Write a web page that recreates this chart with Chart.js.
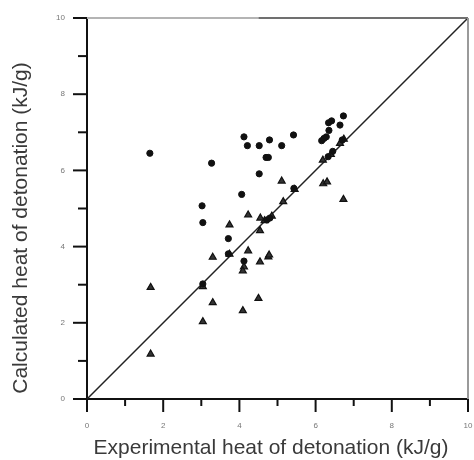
<!DOCTYPE html>
<html>
<head>
<meta charset="utf-8">
<title>Heat of detonation</title>
<script src="https://cdn.jsdelivr.net/npm/chart.js@4"></script>
<style>
  html, body { margin: 0; padding: 0; background: #fff; }
  canvas { display: block; }
</style>
</head>
<body>
<canvas id="chart" width="474" height="460"></canvas>
<script>
// Experimental (x) vs calculated (y) heat of detonation, kJ/g
const circleX = [1.65, 3.27, 3.02, 3.04, 3.71, 4.06, 4.12, 4.21, 4.52, 4.79, 5.11, 5.42, 4.70, 4.76, 4.52,
                 6.16, 6.22, 6.34, 6.42, 6.64, 6.73, 6.35, 6.28, 3.71, 5.43, 4.72, 4.80, 3.04, 6.33, 6.45, 6.70, 4.12];
const circleY = [6.45, 6.19, 5.07, 4.63, 4.21, 5.37, 6.88, 6.65, 6.65, 6.80, 6.65, 6.93, 6.34, 6.34, 5.91,
                 6.78, 6.84, 7.25, 7.30, 7.19, 7.43, 7.05, 6.88, 3.81, 5.53, 4.70, 4.75, 3.02, 6.36, 6.50, 6.80, 3.62];

const triangleX = [1.67, 1.67, 3.04, 3.30, 3.04, 3.30, 3.74, 3.74, 4.23, 4.23, 4.54, 4.12, 4.09, 4.54, 4.76,
                   4.78, 4.09, 4.50, 5.11, 5.15, 5.45, 4.66, 4.85, 6.20, 6.30, 6.73, 6.19, 6.40, 6.64, 6.74, 4.55];
const triangleY = [2.93, 1.18, 2.03, 2.53, 2.95, 3.72, 4.57, 3.80, 4.83, 3.89, 4.42, 3.47, 3.36, 3.60, 3.73,
                   3.78, 2.32, 2.64, 5.72, 5.18, 5.50, 4.68, 4.80, 5.65, 5.70, 5.24, 6.27, 6.42, 6.71, 6.82, 4.75];

// y = x reference line
const lineX = [0, 10];
const lineY = [0, 10];

const axisMin = 0;
const axisMax = 10;
const majorTicks = [0, 2, 4, 6, 8, 10];

const xTitle = 'Experimental heat of detonation (kJ/g)';
const yTitle = 'Calculated heat of detonation (kJ/g)';

const toPoints = (xs, ys) => xs.map((x, i) => ({ x: x, y: ys[i] }));

// tick marks (long for labelled, short for the rest), frame and axis titles
const framePlugin = {
    id: 'frame',
    afterDatasetsDraw(chart) {
        const ctx = chart.ctx;
        const area = chart.chartArea;
        const xs = chart.scales.x;
        const ys = chart.scales.y;
        ctx.save();

        // top and right frame lines
        ctx.lineWidth = 2;
        ctx.strokeStyle = '#b4b4b4';
        ctx.beginPath();
        ctx.moveTo(area.left, area.top);
        ctx.lineTo(xs.getPixelForValue(4.5), area.top);
        ctx.stroke();
        ctx.strokeStyle = '#707070';
        ctx.beginPath();
        ctx.moveTo(xs.getPixelForValue(4.5), area.top);
        ctx.lineTo(area.right, area.top);
        ctx.stroke();
        ctx.strokeStyle = '#9a9a9a';
        ctx.beginPath();
        ctx.moveTo(area.right, area.top);
        ctx.lineTo(area.right, area.bottom);
        ctx.stroke();

        ctx.strokeStyle = '#111';
        ctx.lineWidth = 2;
        xs.ticks.forEach(t => {
            const px = xs.getPixelForValue(t.value);
            const len = majorTicks.includes(t.value) ? 13 : 7;
            ctx.beginPath();
            ctx.moveTo(px, area.bottom);
            ctx.lineTo(px, area.bottom + len);
            ctx.stroke();
        });
        ys.ticks.forEach(t => {
            const py = ys.getPixelForValue(t.value);
            const len = majorTicks.includes(t.value) ? 14 : 9;
            ctx.beginPath();
            ctx.moveTo(area.left - len, py);
            ctx.lineTo(area.left, py);
            ctx.stroke();
        });

        // axis titles
        ctx.fillStyle = '#3a3a3a';
        ctx.font = '21px "Liberation Sans", Arial, sans-serif';
        ctx.textAlign = 'center';
        ctx.textBaseline = 'middle';
        ctx.fillText(xTitle, 271, 448);
        ctx.translate(21, 228);
        ctx.rotate(-Math.PI / 2);
        ctx.fillText(yTitle, 0, 0);
        ctx.restore();
    }
};

const axisOptions = (fitFn) => ({
    type: 'linear',
    min: axisMin,
    max: axisMax,
    grid: { display: false, drawTicks: false },
    border: { display: true, color: '#111', width: 2 },
    ticks: {
        stepSize: 1,
        autoSkip: false,
        maxRotation: 0,
        padding: 22,
        color: '#777',
        font: { family: 'Liberation Sans', size: 8 },
        callback: v => majorTicks.includes(v) ? String(v) : ''
    },
    afterFit: scale => {
        fitFn(scale);
        // labels sit in the margins, don't let them shrink the plot
        scale.paddingTop = 0;
        scale.paddingBottom = 0;
        scale.paddingLeft = 0;
        scale.paddingRight = 0;
    }
});

const ctx = document.getElementById('chart').getContext('2d');
new Chart(ctx, {
    type: 'scatter',
    data: {
        datasets: [
            {
                label: 'y = x',
                type: 'line',
                data: toPoints(lineX, lineY),
                borderColor: '#222',
                borderWidth: 1.5,
                pointRadius: 0,
                fill: false,
                order: 3
            },
            {
                label: 'Method A',
                data: toPoints(circleX, circleY),
                pointStyle: 'circle',
                pointRadius: 3.1,
                backgroundColor: '#111',
                borderColor: '#111',
                borderWidth: 1,
                order: 1
            },
            {
                label: 'Method B',
                data: toPoints(triangleX, triangleY),
                pointStyle: 'triangle',
                pointRadius: 4,
                backgroundColor: '#333',
                borderColor: '#111',
                borderWidth: 1.2,
                order: 2
            }
        ]
    },
    options: {
        responsive: false,
        animation: false,
        layout: { padding: { top: 18, right: 6, left: 0, bottom: 0 } },
        plugins: {
            legend: { display: false },
            tooltip: { enabled: false }
        },
        scales: {
            x: axisOptions(scale => { scale.height = 61; }),
            y: axisOptions(scale => { scale.width = 87; })
        }
    },
    plugins: [framePlugin]
});
</script>
</body>
</html>
